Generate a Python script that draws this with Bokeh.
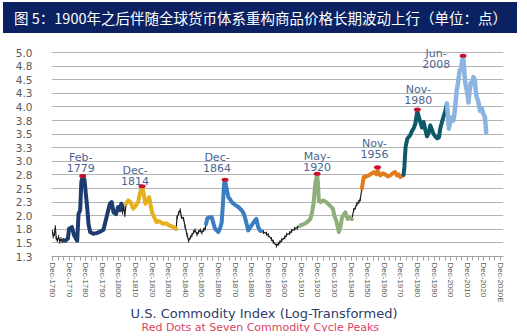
import math
from bokeh.plotting import figure
from bokeh.models import (Range1d, FixedTicker, CustomJSTickFormatter, Title, Div,
                          ColumnDataSource)
from bokeh.layouts import column
from bokeh.core.properties import value
from bokeh.embed import file_html
from bokeh.resources import INLINE

# ---------------- texts ----------------
TITLE = "图 5：1900年之后伴随全球货币体系重构商品价格长期波动上行（单位：点）"
X_TITLE = "U.S. Commodity Index (Log-Transformed)"
SUBTITLE = "Red Dots at Seven Commodity Cycle Peaks"

# ---------------- ticks ----------------
x_tick_years = [1760, 1770, 1780, 1790, 1800, 1810, 1820, 1830, 1840, 1850, 1860, 1870,
                 1880, 1890, 1900, 1910, 1920, 1930, 1940, 1950, 1960, 1970, 1980, 1990,
                 2000, 2010, 2020, 2030]
x_tick_labels = ["Dec-1760", "Dec-1770", "Dec-1780", "Dec-1790", "Dec-1800", "Dec-1810",
                 "Dec-1820", "Dec-1830", "Dec-1840", "Dec-1850", "Dec-1860", "Dec-1870",
                 "Dec-1880", "Dec-1890", "Dec-1900", "Dec-1910", "Dec-1920", "Dec-1930",
                 "Dec-1940", "Dec-1950", "Dec-1960", "Dec-1970", "Dec-1980", "Dec-1990",
                 "Dec-2000", "Dec-2010", "Dec-2020", "Dec-2030E"]
y_ticks = [1.25, 1.5, 1.75, 2.0, 2.25, 2.5, 2.75, 3.0, 3.25, 3.5, 3.75, 4.0, 4.25, 4.5, 4.75, 5.0]
y_tick_labels = ["1.3", "1.5", "1.8", "2.0", "2.3", "2.5", "2.8", "3.0", "3.3", "3.5", "3.8",
                 "4.0", "4.3", "4.5", "4.8", "5.0"]

# ---------------- series (decimal years, log index) ----------------
pre_years = [1760.9, 1761.4, 1762.0, 1762.6, 1763.2, 1763.9, 1764.6, 1765.3, 1766.0, 1766.8, 1767.5]
pre_vals = [1.70, 1.62, 1.66, 1.79, 1.58, 1.55, 1.61, 1.52, 1.57, 1.53, 1.55]

c1_years = [1767.5, 1768.7, 1770.2, 1770.9, 1772.6, 1773.9, 1775.8, 1776.6, 1777.6, 1778.3,
            1779.1, 1780.2, 1781.0, 1781.8, 1782.6, 1783.6, 1785.5, 1787.5, 1789.8, 1791.6,
            1792.6, 1793.7, 1795.5, 1796.6, 1797.7, 1799.2, 1800.4, 1801.6, 1802.4]
c1_vals = [1.55, 1.54, 1.58, 1.76, 1.79, 1.64, 1.54, 2.03, 2.10, 2.62,
           2.72, 2.66, 2.40, 2.16, 1.85, 1.70, 1.67, 1.68, 1.71, 1.74,
           1.86, 2.00, 2.22, 2.25, 2.06, 2.03, 2.16, 2.10, 2.22]

gap1_years = [1802.4, 1803.1, 1803.8, 1804.5, 1805.3]
gap1_vals = [2.22, 2.06, 2.18, 2.01, 2.22]

c2_years = [1805.3, 1806.5, 1808.0, 1809.5, 1811.0, 1812.5, 1813.6, 1814.9, 1815.8, 1816.9,
            1818.0, 1819.2, 1820.0, 1821.0, 1822.4, 1823.6, 1825.2, 1827.6, 1829.4, 1831.3,
            1833.2, 1835.4]
c2_vals = [2.22, 2.28, 2.25, 2.13, 2.18, 2.25, 2.41, 2.53, 2.42, 2.22,
           2.28, 2.34, 2.20, 2.05, 1.96, 1.88, 1.90, 1.85, 1.86, 1.82,
           1.80, 1.76]

gap2_years = [1835.4, 1836.0, 1837.0, 1837.9, 1838.6, 1839.9, 1840.9, 1842.0, 1842.9, 1844.0,
              1844.9, 1846.0, 1846.9, 1848.0, 1848.9, 1850.0, 1850.9, 1852.0, 1852.9, 1853.5]
gap2_vals = [1.76, 1.97, 2.05, 2.10, 1.98, 1.94, 1.79, 1.65, 1.54, 1.60,
             1.64, 1.70, 1.73, 1.66, 1.70, 1.73, 1.69, 1.74, 1.76, 1.85]

c3_years = [1853.5, 1854.2, 1855.6, 1856.9, 1858.0, 1858.9, 1860.9, 1862.0, 1862.9, 1863.6,
            1864.3, 1864.9, 1866.0, 1866.9, 1868.0, 1868.9, 1870.9, 1872.9, 1874.9, 1876.0,
            1876.9, 1878.9, 1880.0, 1880.9, 1882.9, 1883.8, 1884.9, 1885.9, 1886.5]
c3_vals = [1.85, 1.95, 1.97, 1.97, 1.85, 1.76, 1.70, 1.78, 1.88, 2.20,
           2.58, 2.65, 2.48, 2.34, 2.30, 2.25, 2.20, 2.16, 2.10, 2.05,
           1.97, 1.73, 1.78, 1.82, 1.91, 1.94, 1.79, 1.73, 1.72]

gap3_years = [1886.5, 1888.0, 1889.9, 1891.0, 1892.9, 1894.0, 1895.9, 1897.0, 1897.9, 1899.0,
              1900.9, 1902.0, 1903.9, 1905.0, 1906.9, 1908.5, 1910.3]
gap3_vals = [1.72, 1.70, 1.67, 1.64, 1.57, 1.52, 1.45, 1.48, 1.51, 1.55,
             1.60, 1.65, 1.68, 1.72, 1.76, 1.78, 1.82]

c4_years = [1910.3, 1912.0, 1914.3, 1916.3, 1917.3, 1918.2, 1919.3, 1920.4, 1920.9, 1921.4,
            1922.5, 1924.0, 1925.9, 1927.9, 1929.9, 1930.8, 1931.9, 1933.5, 1934.5, 1935.4,
            1936.5, 1937.4, 1938.9, 1940.0, 1941.4]
c4_vals = [1.82, 1.84, 1.88, 1.94, 2.05, 2.22, 2.59, 2.76, 2.60, 2.28,
           2.25, 2.28, 2.25, 2.19, 2.13, 2.00, 1.91, 1.70, 1.80, 1.97,
           2.02, 2.06, 1.94, 1.96, 1.94]

gap4_years = [1941.4, 1942.4, 1943.5, 1944.4, 1945.5, 1946.4, 1947.4]
gap4_vals = [1.94, 2.10, 2.15, 2.22, 2.25, 2.30, 2.50]

c5_years = [1947.4, 1948.0, 1948.5, 1950.0, 1951.4, 1953.0, 1954.4, 1955.5, 1956.2, 1956.8,
            1957.5, 1958.4, 1960.0, 1961.4, 1963.0, 1964.4, 1966.0, 1967.4, 1968.5, 1969.5,
            1970.5, 1971.5, 1972.5]
c5_vals = [2.50, 2.62, 2.71, 2.72, 2.74, 2.77, 2.80, 2.78, 2.76, 2.84,
           2.78, 2.74, 2.78, 2.76, 2.72, 2.74, 2.78, 2.80, 2.74, 2.76,
           2.71, 2.73, 2.75]

c6_years = [1972.5, 1973.0, 1973.7, 1974.8, 1976.5, 1977.6, 1978.5, 1979.6, 1980.3, 1980.8,
            1981.6, 1982.6, 1983.6, 1984.6, 1985.6, 1986.6, 1987.6, 1988.6, 1989.6, 1990.6,
            1991.6, 1992.8, 1993.8, 1994.6, 1995.6, 1996.6, 1997.6, 1998.6]
c6_vals = [2.75, 2.90, 3.26, 3.42, 3.48, 3.56, 3.60, 3.69, 3.84, 3.92,
           3.82, 3.72, 3.62, 3.72, 3.58, 3.46, 3.52, 3.66, 3.58, 3.50,
           3.46, 3.42, 3.44, 3.60, 3.72, 3.82, 3.92, 4.06]

c7_years = [1998.6, 1999.3, 1999.8, 2000.5, 2001.6, 2002.5, 2003.3, 2003.8, 2004.5, 2005.2,
            2006.3, 2007.2, 2007.8, 2008.4, 2009.0, 2009.6, 2010.2, 2011.0, 2011.6, 2012.3,
            2013.0, 2013.8, 2014.6, 2015.4, 2016.0, 2016.6, 2017.5, 2018.6, 2019.5, 2020.6,
            2021.5, 2022.3]
c7_vals = [4.06, 3.80, 3.60, 3.70, 3.81, 3.75, 3.90, 4.06, 4.30, 4.42,
           4.67, 4.70, 4.85, 4.92, 4.70, 4.45, 4.36, 4.25, 4.08, 4.30,
           4.45, 4.42, 4.55, 4.50, 4.30, 4.18, 4.10, 3.93, 3.98, 3.87,
           3.82, 3.53]

peak_years = [1779.1, 1814.9, 1864.9, 1920.4, 1956.8, 1980.8, 2008.4]
peak_vals = [2.73, 2.54, 2.66, 2.77, 2.89, 3.95, 4.94]
peak_labels = ["Feb-\n1779", "Dec-\n1814", "Dec-\n1864", "May-\n1920",
               "Nov-\n1956", "Nov-\n1980", "Jun-\n2008"]

# ---------------- styles ----------------
label_dx = [-2, -7, -8, 0, -3, 1, -27]
label_dy = [-13, -10, -17, -12, -18, -15, 3]

NAVY_BAR = "#0b2161"
GRID = "#b4b4b4"
TICK_TXT = "#595959"
THIN = "#1e1e1e"

thick_segments = [
    (c1_years, c1_vals, "#1b3d6f", 4),
    (c2_years, c2_vals, "#e4b01e", 4),
    (c3_years, c3_vals, "#3b7dc3", 4),
    (c4_years, c4_vals, "#8daf79", 4),
    (c5_years, c5_vals, "#e27b1d", 4),
    (c6_years, c6_vals, "#0f586a", 4),
    (c7_years, c7_vals, "#8cb4e1", 4.5),
]
thin_segments = [
    (pre_years, pre_vals),
    (gap1_years, gap1_vals),
    (gap2_years, gap2_vals),
    (gap3_years, gap3_vals),
    (gap4_years, gap4_vals),
]

# ---------------- header bar ----------------
header = Div(text=TITLE, width=514, height=31, margin=(2, 10, 3, 3),
             styles={"background-color": NAVY_BAR, "color": "white",
                     "font-family": "'Noto Sans CJK SC', sans-serif",
                     "font-size": "14.5px", "line-height": "31px",
                     "padding-left": "11px", "white-space": "pre",
                     "box-sizing": "border-box", "overflow": "hidden"})

# ---------------- main chart ----------------
px_per_year = 448 / 270.0
x_first_tick = x_tick_years[0] + 11 / 12
x_last_tick = x_tick_years[-1] + 11 / 12
x0 = x_first_tick - 1 / px_per_year
x1 = x_last_tick + 3 / px_per_year
y0 = y_ticks[0]
y1 = y_ticks[0] + 216 / 54.4

p = figure(frame_width=452, frame_height=216,
           x_range=Range1d(x0, x1), y_range=Range1d(y0, y1),
           toolbar_location=None, output_backend="svg",
           min_border_left=51, min_border_right=24, min_border_top=4, min_border_bottom=10,
           background_fill_color="white", border_fill_color="white",
           outline_line_color=None)

x_tick_pos = [yr + 11 / 12 for yr in x_tick_years]
x_minor_pos = [yr + 11 / 12 + k * 10 / 3 for yr in x_tick_years[:-1] for k in range(3)]
xticker = FixedTicker(ticks=x_tick_pos, minor_ticks=x_minor_pos)
yticker = FixedTicker(ticks=y_ticks, minor_ticks=[])

fmt_code = """
let best = 0;
for (let i = 0; i < pos.length; i++) {
  if (Math.abs(pos[i] - tick) < Math.abs(pos[best] - tick)) best = i;
}
return labels[best];
"""
p.xaxis.ticker = xticker
p.xaxis.formatter = CustomJSTickFormatter(args=dict(pos=x_tick_pos, labels=x_tick_labels), code=fmt_code)
p.xaxis.major_label_orientation = "vertical"
p.xaxis.major_label_text_font = "Liberation Sans"
p.xaxis.major_label_text_font_size = "8px"
p.xaxis.major_label_text_color = TICK_TXT
p.xaxis.major_label_standoff = 2
p.xaxis.axis_line_color = "#a0a0a0"
p.xaxis.major_tick_line_color = "#a0a0a0"
p.xaxis.minor_tick_line_color = "#a0a0a0"
p.xaxis.major_tick_in = 0
p.xaxis.major_tick_out = 4
p.xaxis.minor_tick_in = 0
p.xaxis.minor_tick_out = 4

p.yaxis.ticker = yticker
p.yaxis.formatter = CustomJSTickFormatter(args=dict(pos=y_ticks, labels=y_tick_labels), code=fmt_code)
p.yaxis.axis_line_color = None
p.yaxis.major_tick_line_color = None
p.yaxis.minor_tick_line_color = None
p.yaxis.major_label_standoff = 13
p.yaxis.major_label_text_font = "DejaVu Sans"
p.yaxis.major_label_text_font_size = "10.5px"
p.yaxis.major_label_text_color = TICK_TXT

p.xgrid.visible = False
p.ygrid.ticker = yticker
p.ygrid.grid_line_color = GRID
p.ygrid.grid_line_width = 1

# thin connecting segments
for xs, ys in thin_segments:
    p.line(xs, ys, line_color=THIN, line_width=1.2)
    p.scatter(xs, ys, marker="dash", angle=math.pi / 2, size=4,
              line_color=THIN, line_width=1)

# cycle segments
for xs, ys, col, lw in thick_segments:
    p.line(xs, ys, line_color=col, line_width=lw, line_join="round", line_cap="round")

# peak dots and labels
src = ColumnDataSource(dict(x=peak_years, y=peak_vals, t=peak_labels, dx=label_dx, dy=label_dy))
p.ellipse(x="x", y="y", width=7, height=4, width_units="screen", height_units="screen",
          source=src, fill_color="#c8102e", line_color=None)
p.text(x="x", y="y", text="t", x_offset="dx", y_offset="dy", source=src,
       text_align="center", text_baseline="middle", text_line_height=0.85,
       text_font=value("DejaVu Sans"), text_font_size="11px", text_color="#4a6590")

# bottom titles
t1 = Title(text=X_TITLE, align="left", offset=79, standoff=-3,
           text_font="DejaVu Sans", text_font_size="13px", text_font_style="normal",
           text_color="#2e3c6c")
p.add_layout(t1, "below")
t2 = Title(text=SUBTITLE, align="left", offset=90, standoff=-2,
           text_font="DejaVu Sans", text_font_size="11px", text_font_style="normal",
           text_color="#d9435f")
p.add_layout(t2, "below")

layout = column(header, p, spacing=0)
open("out.html", "w").write(file_html(layout, INLINE))
